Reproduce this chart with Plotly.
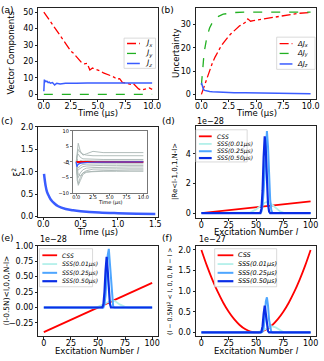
import plotly.graph_objects as go

W, H = 324, 361

# (a) vector components vs time
t_a = [0, 0.25, 0.5, 0.75, 1, 1.25, 1.5, 1.75, 2, 2.25, 2.5, 2.75, 3, 3.25, 3.5, 3.75, 4, 4.25, 4.5, 4.75,
       5, 5.25, 5.5, 5.75, 6, 6.25, 6.5, 6.75, 7, 7.25, 7.5, 7.75, 8, 8.25, 8.5, 8.75, 9, 9.25, 9.5, 9.75, 10]
jx = [50, 47.6, 45.3, 42.6, 40.4, 37.9, 35.6, 33.2, 31.0, 28.4, 26.3, 24.9, 23.2, 20.9, 19.2, 18.6, 18.9, 14.8, 16.0, 15.4,
      15.0, 14.2, 13.1, 12.6, 11.8, 11.2, 10.4, 9.2, 9.6, 7.3, 7.0, 6.6, 6.1, 6.7, 5.2, 3.4, 2.6, 3.1, 3.6, 3.9, 3.1]
t_jy = [0, 10]
jy = [0, 0]
t_jz = [0, 0.05, 0.1, 0.15, 0.2, 0.3, 0.4, 0.5, 0.6, 0.8, 1.0, 1.2, 1.5, 2.0, 2.5, 3, 4, 5, 6, 7, 8, 9, 10]
jz = [2, 9, 7.5, 8.5, 7.8, 8, 7.2, 7.5, 6.8, 7.2, 5.8, 6.8, 6.4, 6.8, 6.6, 6.8, 6.9, 6.7, 6.9, 7, 7, 7, 7]

# (b) uncertainties
djx = [0, 3.5, 7, 10.5, 13.4, 16.0, 18.4, 20.3, 22.0, 23.6, 25.0, 26.2, 27.4, 28.4, 29.4, 30.1, 30.8, 32.4, 31.4, 31.6,
       31.8, 32.0, 32.3, 32.5, 32.8, 33.0, 33.2, 33.4, 33.6, 33.8, 34.0, 34.1, 34.3, 34.4, 34.5, 34.7, 34.8, 34.9, 35.0, 35.0, 35.1]
t_djy = [0, 0.1, 0.25, 0.5, 0.75, 1, 1.25, 1.5, 2, 2.5, 3, 4, 5, 6, 8, 10]
djy = [4, 11, 18, 24.5, 28.5, 30.8, 32.3, 33.3, 34.4, 34.9, 35.1, 35.3, 35.3, 35.3, 35.3, 35.3]
t_djz = [0, 0.1, 0.2, 0.3, 0.5, 0.75, 1, 1.5, 2, 3, 4, 5, 6, 7, 8, 9, 10]
djz = [5, 3, 2, 1.7, 1.4, 1.2, 1.1, 0.95, 0.85, 0.75, 0.65, 0.6, 0.5, 0.45, 0.4, 0.35, 0.3]

# (c) squeezing parameter
t_c = [0.01, 0.03, 0.05, 0.08, 0.1, 0.15, 0.2, 0.3, 0.4, 0.5, 0.75, 1.0, 1.25, 1.5]
xi2 = [0.95, 0.7, 0.55, 0.44, 0.38, 0.29, 0.23, 0.17, 0.14, 0.12, 0.09, 0.075, 0.065, 0.06]

# (c) inset: individual components
t_in = [0, 0.15, 0.3, 0.6, 1, 1.5, 2.5, 4, 6, 8, 10]
gray_series = [
    [0, 4, 6, 3.5, 2.2, 2.6, 3.4, 3.0, 3.0, 3.0, 3.0],
    [0, 3, 4, 3, 2.5, 2.2, 2.0, 2.0, 2.0, 2.0, 2.0],
    [0, 2, 2.5, 1.5, 1.0, 0.9, 0.9, 0.8, 0.8, 0.8, 0.8],
    [0, 1, -1, 0.5, 0.3, 0.4, 0.3, 0.3, 0.3, 0.3, 0.3],
    [0, -1.5, -2, -1.2, -0.8, -0.7, -0.6, -0.6, -0.6, -0.6, -0.6],
    [0, -3, -2.5, -2, -1.5, -1.3, -1.2, -1.1, -1.1, -1.1, -1.1],
    [0, -4, -5, -3.5, -2.5, -2.0, -1.8, -1.7, -1.6, -1.6, -1.6],
    [0, -6, -7, -5, -3.5, -2.8, -2.3, -2.2, -2.2, -2.2, -2.2],
    [0, -5, -7.5, -6, -4, -3.3, -3.0, -2.8, -2.6, -2.6, -2.6],
    [0, -3, -4, -4.5, -3.5, -3.2, -3.1, -3.0, -3.0, -3.0, -3.0],
]
t_in_red = [0, 10]
in_red = [0, 0]
t_in_blue = [0, 0.1, 0.2, 0.4, 0.7, 1, 1.5, 2, 3, 10]
in_blue = [0, -1.5, -1.0, -0.6, -0.4, -0.3, -0.2, -0.1, -0.05, 0]

# (d)-(f) excitation number distributions (units of the offset)
l_css = [0, 25, 50, 75, 100]
css_d = [0, 0.19, 0.39, 0.59, 0.8]
css_e = [-0.4, -0.2, 0, 0.2, 0.4]
l_css_f = [0, 5, 10, 15, 20, 25, 30, 35, 40, 45, 50, 55, 60, 65, 70, 75, 80, 85, 90, 95, 100]
css_f = [2.0, 1.62, 1.28, 0.98, 0.72, 0.5, 0.32, 0.18, 0.08, 0.02, 0, 0.02, 0.08, 0.18, 0.32, 0.5, 0.72, 0.98, 1.28, 1.62, 2.0]

l_s1 = [0, 40, 45, 50, 55, 58, 60, 62, 65, 68, 70, 72, 75, 80, 100]
s1_d = [0, 0, 0.05, 0.25, 0.55, 0.7, 0.75, 0.72, 0.55, 0.35, 0.22, 0.12, 0.03, 0, 0]
l_s1e = [0, 42, 45, 50, 55, 60, 63, 66, 70, 75, 78, 100]
s1_e = [0, 0, -0.01, 0.01, 0.05, 0.1, 0.12, 0.1, 0.05, 0.01, 0, 0]
l_s1f = [0, 50, 55, 60, 64, 68, 72, 75, 78, 100]
s1_f = [0, 0, 0.03, 0.1, 0.15, 0.12, 0.05, 0.01, 0, 0]

l_s2 = [0, 54, 55, 56, 57, 58, 59, 60, 61, 62, 63, 64, 65, 100]
s2_d = [0, 0, 0.1, 0.5, 1.5, 3.2, 5.0, 5.55, 4.5, 2.5, 0.9, 0.2, 0, 0]
s2_e = [0, 0, 0.0, 0.05, 0.2, 0.5, 0.85, 0.95, 0.7, 0.35, 0.1, 0.02, 0, 0]
s2_f = [0, 0, 0.0, 0.02, 0.1, 0.35, 0.75, 0.85, 0.65, 0.3, 0.08, 0.01, 0, 0]

l_s3 = [0, 54, 55, 56, 57, 58, 59, 60, 61, 62, 63, 100]
s3_d = [0, 0, 0.3, 1.5, 3.8, 5.2, 4.2, 2.0, 0.6, 0.1, 0, 0]
s3_e = [0, 0, 0.05, 0.25, 0.6, 0.82, 0.6, 0.25, 0.06, 0, 0, 0]
s3_f = [0, 0, 0.02, 0.15, 0.45, 0.65, 0.45, 0.15, 0.03, 0, 0, 0]

RED = "#ff0000"
GREEN = "#22b022"
BLUE = "#3a5cff"
C1 = "#b4f0ea"
C2 = "#4ea6ff"
C3 = "#0a2ee6"
FONT = "DejaVu Sans"
TICK = 8


def px(x):
    return x / W


def py(y):
    return 1 - y / H


def axis(x0, x1, rng, anchor, fs=TICK, **kw):
    d = dict(domain=[px(x0), px(x1)], range=rng, anchor=anchor, showline=True, mirror=True,
             linecolor="#222", linewidth=0.8, ticks="outside", ticklen=2.5, tickwidth=0.8,
             tickcolor="#222", showgrid=False, zeroline=False, ticklabelstandoff=-3,
             tickfont=dict(size=fs, color="black", family=FONT))
    d.update(kw)
    return d


def yaxis(y0, y1, rng, anchor, fs=TICK, **kw):
    d = axis(0, 0, rng, anchor, fs, **kw)
    d["domain"] = [py(y1), py(y0)]
    d["ticklabelstandoff"] = 0
    return d


LX = (38, 159)
RX = (198, 320)
R1 = (4, 97)
R2 = (126, 218)
R3 = (248, 341)

fig = go.Figure()


def line(x, y, ax, color, width=1.5, dash="solid", shape="linear"):
    fig.add_trace(go.Scatter(x=x, y=y, mode="lines", xaxis="x" + ax, yaxis="y" + ax,
                             line=dict(color=color, width=width, dash=dash, shape=shape),
                             showlegend=False, hoverinfo="skip"))


# (a)
line(t_a, jx, "", RED, 1.3, "dashdot")
line(t_jy, jy, "", GREEN, 1.3, "dash")
line(t_jz, jz, "", BLUE, 1.5)
# (b)
line(t_a, djx, "2", RED, 1.3, "dashdot")
line(t_djy, djy, "2", GREEN, 1.3, "dash")
line(t_djz, djz, "2", BLUE, 1.5)
# (c)
line(t_c, xi2, "3", BLUE, 2.5, shape="spline")
# inset
for g in gray_series:
    line(t_in, g, "7", "#a9b6b3", 0.9)
line(t_in_red, in_red, "7", RED, 2)
line(t_in_blue, in_blue, "7", BLUE, 1.2)
# (d)
line(l_css, css_d, "4", RED, 1.8)
line(l_s1, s1_d, "4", C1, 1.8)
line(l_s2, s2_d, "4", C2, 2)
line(l_s3, s3_d, "4", C3, 2.2)
# (e)
line(l_css, css_e, "5", RED, 1.8)
line(l_s1e, s1_e, "5", C1, 1.8)
line(l_s2, s2_e, "5", C2, 2)
line(l_s3, s3_e, "5", C3, 2.2)
# (f)
line(l_css_f, css_f, "6", RED, 1.8, shape="spline")
line(l_s1f, s1_f, "6", C1, 1.8)
line(l_s2, s2_f, "6", C2, 2)
line(l_s3, s3_f, "6", C3, 2.2)

t_ticks = dict(tickvals=[0, 2.5, 5, 7.5, 10], ticktext=["0.0", "2.5", "5.0", "7.5", "10.0"])
l_ticks = dict(tickvals=[0, 25, 50, 75, 100])

fig.update_layout(
    width=W, height=H, margin=dict(l=0, r=0, t=0, b=0),
    paper_bgcolor="white", plot_bgcolor="white", showlegend=False,
    font=dict(family=FONT, color="black"),
    xaxis=axis(*LX, [-0.5, 10.5], "y", **t_ticks),
    yaxis=yaxis(*R1, [-2.5, 52.5], "x", tickvals=[0, 10, 20, 30, 40, 50]),
    xaxis2=axis(*RX, [-0.5, 10.5], "y2", **t_ticks),
    yaxis2=yaxis(*R1, [-1.8, 37.1], "x2", tickvals=[0, 10, 20, 30]),
    xaxis3=axis(*LX, [-0.065, 1.53], "y3", tickvals=[0, 0.5, 1.0, 1.5], tickformat=".1f"),
    yaxis3=yaxis(*R2, [0, 2], "x3", tickvals=[0, 0.5, 1.0, 1.5, 2.0], tickformat=".1f"),
    xaxis4=axis(*RX, [-5, 105], "y4", **l_ticks),
    yaxis4=yaxis(125, 219, [-0.3, 5.9], "x4", tickvals=[0, 2, 4]),
    xaxis5=axis(*LX, [-5, 105], "y5", **l_ticks),
    yaxis5=yaxis(*R3, [-0.47, 1.0], "x5", tickvals=[-0.25, 0, 0.25, 0.5, 0.75, 1.0], tickformat=".2f"),
    xaxis6=axis(*RX, [-5, 105], "y6", **l_ticks),
    yaxis6=yaxis(*R3, [-0.1, 2.1], "x6", tickvals=[0, 0.5, 1.0, 1.5, 2.0], tickformat=".1f"),
    xaxis7=axis(73, 148, [-0.5, 10.5], "y7", fs=5, linecolor="#777", tickcolor="#777", ticklen=2, **t_ticks),
    yaxis7=yaxis(130, 194, [-10, 10], "x7", fs=5, linecolor="#777", tickcolor="#777", ticklen=2,
                 tickvals=[-10, -5, 0, 5, 10]),
)

ann = []
shapes = []


def text(x, y, s, size=8.5, angle=0, xanchor="center", italic=False):
    ann.append(dict(x=px(x), y=py(y), xref="paper", yref="paper", text=s, showarrow=False,
                    textangle=angle, xanchor=xanchor, yanchor="middle",
                    font=dict(size=size, family=FONT, color="black",
                              style="italic" if italic else "normal")))


# panel labels
for lab, x, y in [("(a)", 7, 6), ("(b)", 169, 6), ("(c)", 6, 120), ("(d)", 170, 120), ("(e)", 7, 240), ("(f)", 169, 240)]:
    text(x, y, lab, 9)

# axis titles
text(10, 50, "Vector Components", angle=-90)
text(178, 50, "Uncertainty", angle=-90)
text(15, 172, "ξ<sup>2</sup>", angle=-90)
text(176, 172, "|Re<l-1,0,1,N-l>", angle=-90, size=7)
text(6, 294, "(l-0.5N)<l,0,0,N-l>", angle=-90, size=7.5)
text(171, 294, "(l − 0.5N)<sup>2</sup> < l, 0, 0, N − l >", angle=-90, size=6.3)
text(98, 111.5, "Time (µs)")
text(259, 111.5, "Time (µs)")
text(98, 233.5, "Time (µs)")
text(259, 233.5, "Excitation Number <i>l</i>")
text(98, 355.5, "Excitation Number <i>l</i>")
text(259, 355.5, "Excitation Number <i>l</i>")
text(111, 204, "Time (µs)", size=5)
text(66, 162, "<i>J<sub>n</sub></i>", size=6, angle=-90)
# offset labels
text(197, 120, "1e−28", size=8, xanchor="left")
text(38, 242, "1e−28", size=8, xanchor="left")
text(199, 242, "1e−27", size=8, xanchor="left")


def legend_box(x0, y0, x1, y1, rows, k0, k1, tx, fs):
    shapes.append(dict(type="rect", xref="paper", yref="paper", x0=px(x0), x1=px(x1), y0=py(y1), y1=py(y0),
                       fillcolor="rgba(255,255,255,0.85)", line=dict(color="#d0d0d0", width=0.8), layer="above"))
    for yc, lab, color, dash, width in rows:
        shapes.append(dict(type="line", xref="paper", yref="paper", x0=px(k0), x1=px(k1), y0=py(yc), y1=py(yc),
                           line=dict(color=color, dash=dash, width=width), layer="above"))
        text(tx, yc, lab, size=fs, xanchor="left", italic=True)


legend_box(125, 35, 157, 66, [(40.5, "J<sub>x</sub>", RED, "dashdot", 1.3),
                              (50.7, "J<sub>y</sub>", GREEN, "dash", 1.3),
                              (61, "J<sub>z</sub>", BLUE, "solid", 1.5)], 128, 141, 144, 7.5)
legend_box(280, 34, 319, 67, [(40.7, "ΔJ<sub>x</sub>", RED, "dashdot", 1.3),
                              (50.7, "ΔJ<sub>y</sub>", GREEN, "dash", 1.3),
                              (61.5, "ΔJ<sub>z</sub>", BLUE, "solid", 1.5)], 283, 296, 299, 7)
sss = [("CSS", RED, 1.8), ("SSS(0.01μs)", C1, 1.8), ("SSS(0.25μs)", C2, 2), ("SSS(0.50μs)", C3, 2.2)]
legend_box(198, 129, 250, 162, [(y, s[0], s[1], "solid", s[2]) for y, s in zip([135.7, 143.5, 151, 158], sss)],
           201, 214, 217, 6)
legend_box(39, 251, 93, 290, [(y, s[0], s[1], "solid", s[2]) for y, s in zip([257.7, 266.7, 275.7, 284.3], sss)],
           42, 57, 60, 6)
legend_box(217, 251, 280, 290, [(y, s[0], s[1], "solid", s[2]) for y, s in zip([257.7, 266.7, 275.7, 284.3], sss)],
           220, 236, 239, 6.5)

fig.update_layout(annotations=ann, shapes=shapes)
# remove the default page margin so the figure sits at the window's corner
fig.write_html("out.html", config={"displayModeBar": False},
               post_script="document.body.style.margin='0';")
